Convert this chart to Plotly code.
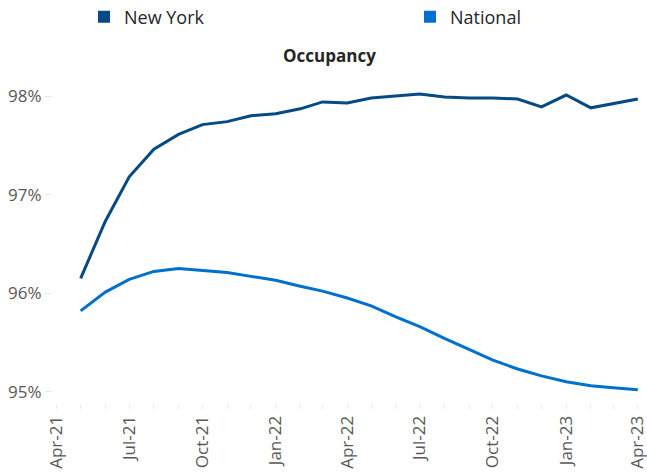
import plotly.graph_objects as go
import pandas as pd

months = pd.date_range("2021-05-01", "2023-04-01", freq="MS")
new_york = [96.15, 96.73, 97.18, 97.46, 97.61, 97.71, 97.74, 97.80, 97.82, 97.87, 97.94,
            97.93, 97.98, 98.00, 98.02, 97.99, 97.98, 97.98, 97.97, 97.89, 98.01, 97.88, 97.92, 97.97]
national = [95.82, 96.01, 96.14, 96.22, 96.25, 96.23, 96.21, 96.17, 96.13, 96.07, 96.02,
            95.95, 95.87, 95.76, 95.66, 95.54, 95.43, 95.32, 95.23, 95.16, 95.10, 95.06, 95.04, 95.02]
y_ticks = [95, 96, 97, 98]
y_tick_labels = ["95%", "96%", "97%", "98%"]

NY_COLOR = "#054A83"
NAT_COLOR = "#0070CE"
FONT = "Open Sans"

fig = go.Figure()
fig.add_trace(go.Scatter(x=months, y=new_york, mode="lines", line=dict(color=NY_COLOR, width=3),
                         showlegend=False, name="New York"))
fig.add_trace(go.Scatter(x=months, y=national, mode="lines", line=dict(color=NAT_COLOR, width=3),
                         showlegend=False, name="National"))
fig.add_trace(go.Scatter(x=[None], y=[None], mode="markers", name="New York", legend="legend",
                         marker=dict(symbol="square", size=16, color=NY_COLOR)))
fig.add_trace(go.Scatter(x=[None], y=[None], mode="markers", name="National", legend="legend2",
                         marker=dict(symbol="square", size=16, color=NAT_COLOR)))

leg_common = dict(orientation="h", yref="container", xref="container", yanchor="middle",
                  xanchor="left", bgcolor="rgba(0,0,0,0)",
                  font=dict(size=18, color="#262626", family=FONT), itemsizing="constant")

fig.update_layout(
    width=647, height=475,
    margin=dict(l=52, r=2, t=70, b=71, autoexpand=False),
    paper_bgcolor="white", plot_bgcolor="white",
    font=dict(family=FONT, color="#595959"),
    title=dict(text="<b>Occupancy</b>", x=329.5 / 647, xref="container", xanchor="center",
               y=1 - 56 / 475, yref="container", yanchor="middle",
               font=dict(size=17, color="#262626", family=FONT)),
    legend=dict(x=84 / 647, y=1 - 17 / 475, **leg_common),
    legend2=dict(x=410 / 647, y=1 - 17 / 475, **leg_common),
)
fig.update_xaxes(
    range=["2021-03-26", "2023-04-10"],
    tickformat="%b-%y", dtick="M3", tick0="2021-04-01", tickangle=-90,
    ticks="outside", ticklen=4, tickcolor="#e6e6e6",
    minor=dict(dtick="M1", ticks="outside", ticklen=4, tickcolor="#e6e6e6"),
    showgrid=False, showline=False, zeroline=False, automargin=False,
    ticklabeloverflow="allow",
    tickfont=dict(size=17, color="#595959", family=FONT),
)
fig.update_yaxes(
    range=[94.875, 98.264], tickvals=y_ticks, ticktext=y_tick_labels,
    ticks="outside", ticklen=6, tickcolor="#e6e6e6",
    showgrid=False, showline=False, zeroline=False, automargin=False,
    tickfont=dict(size=17, color="#595959", family=FONT),
)
fig.write_html("out.html", config={"displayModeBar": False},
               post_script="document.body.style.margin='0';document.body.style.overflow='hidden';")
